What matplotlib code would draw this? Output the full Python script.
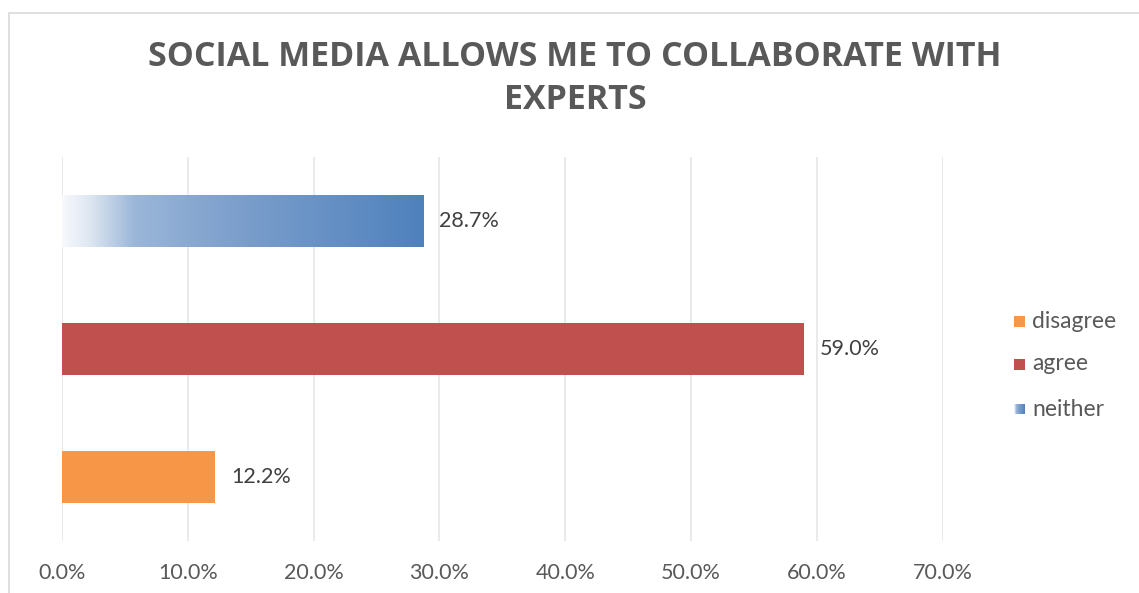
import numpy as np
import matplotlib.pyplot as plt
from matplotlib.patches import Rectangle
from matplotlib.colors import LinearSegmentedColormap

# Survey responses (percent)
categories = ["disagree", "agree", "neither"]
values = [12.2, 59.0, 28.7]
value_labels = ["12.2%", "59.0%", "28.7%"]
tick_values = [0, 10, 20, 30, 40, 50, 60, 70]
tick_labels = ["0.0%", "10.0%", "20.0%", "30.0%", "40.0%", "50.0%", "60.0%", "70.0%"]
title_lines = ["SOCIAL MEDIA ALLOWS ME TO COLLABORATE WITH", "EXPERTS"]

TEXT = "#595959"
GRID = "#E6E6E6"
solid_colors = {"disagree": "#F79646", "agree": "#C0504D"}
blue_grad = LinearSegmentedColormap.from_list(
    "neither_grad",
    [(0.0, "#F7F9FC"), (0.08, "#DCE5F1"), (0.2, "#9BB6D9"), (0.45, "#7FA1CD"), (1.0, "#4F81BD")],
)

plt.rcParams["font.family"] = ["Lato", "DejaVu Sans"]

W, H = 1139, 593
fig = plt.figure(figsize=(W / 100, H / 100), dpi=100)
fig.patch.set_facecolor("white")

# outer chart frame
fig.patches.append(Rectangle((8.7 / W, -0.05), 1.2, (593 - 12.7) / H + 0.05,
                             transform=fig.transFigure, fill=False,
                             edgecolor="#D9D9D9", linewidth=1.2))

ax = fig.add_axes([62 / W, 52 / H, (942.7 - 62) / W, (541 - 157) / H])
ax.set_xlim(0, 70)
ax.set_ylim(-0.5, 2.5)
bar_h = 0.405

y = np.arange(len(categories))
for yi, cat, v, lab in zip(y, categories, values, value_labels):
    if cat == "neither":
        grad = np.linspace(0, 1, 512).reshape(1, -1)
        ax.imshow(grad, cmap=blue_grad, aspect="auto",
                  extent=(0, v, yi - bar_h / 2, yi + bar_h / 2), zorder=2)
    else:
        ax.barh(yi, v, height=bar_h, color=solid_colors[cat], zorder=2)
    ax.text(v + 1.25, yi, lab, va="center", ha="left", fontsize=15.5, color="#404040")

ax.set_xticks(tick_values)
ax.set_xticklabels(tick_labels, fontsize=15.5, color=TEXT)
ax.set_yticks([])
ax.tick_params(axis="x", length=0, pad=16)
ax.grid(axis="x", color=GRID, linewidth=1.2, zorder=0)
ax.set_axisbelow(True)
for s in ax.spines.values():
    s.set_visible(False)

for line, ty in zip(title_lines, [57, 100]):
    fig.text(575 / W, 1 - ty / H, line, ha="center", va="center", fontsize=24.5,
             fontweight="bold", color=TEXT, family=["Open Sans", "DejaVu Sans"])

# legend entries (top to bottom: disagree, agree, neither)
legend_y = [321, 364, 409]
sq = 11
for cat, ly in zip(categories, legend_y):
    if cat == "neither":
        lax = fig.add_axes([1014 / W, 1 - (ly + sq / 2) / H, sq / W, sq / H])
        lax.imshow(np.linspace(0, 1, 64).reshape(1, -1), cmap=blue_grad, aspect="auto")
        lax.set_axis_off()
    else:
        fig.patches.append(Rectangle((1014 / W, 1 - (ly + sq / 2) / H), sq / W, sq / H,
                                     transform=fig.transFigure,
                                     facecolor=solid_colors[cat], edgecolor="none"))
    fig.text(1032 / W, 1 - ly / H, cat, ha="left", va="center", fontsize=16.5, color=TEXT)

fig.savefig("out.png", dpi=100, facecolor="white")
